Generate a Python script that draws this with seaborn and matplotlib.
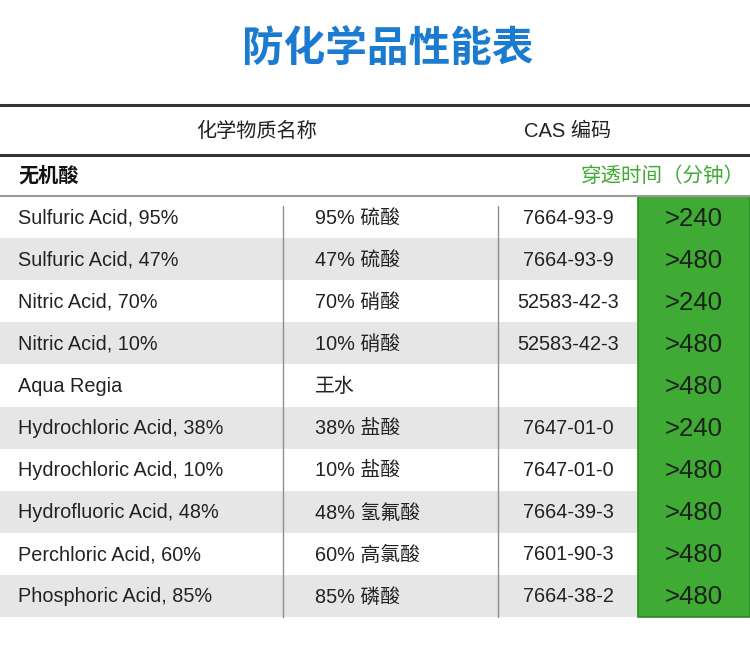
import matplotlib
matplotlib.use("Agg")
import matplotlib.pyplot as plt
import seaborn as sns
import pandas as pd

sns.set_theme(style="white")
plt.rcParams['font.family'] = ['Liberation Sans', 'Noto Sans CJK SC', 'DejaVu Sans']

title = "防化学品性能表"
header_name = "化学物质名称"
header_cas = "CAS 编码"
section = "无机酸"
time_header = "穿透时间（分钟）"

names_en = ["Sulfuric Acid, 95%", "Sulfuric Acid, 47%", "Nitric Acid, 70%", "Nitric Acid, 10%",
            "Aqua Regia", "Hydrochloric Acid, 38%", "Hydrochloric Acid, 10%",
            "Hydrofluoric Acid, 48%", "Perchloric Acid, 60%", "Phosphoric Acid, 85%"]
names_cn = ["95% 硫酸", "47% 硫酸", "70% 硝酸", "10% 硝酸", "王水", "38% 盐酸", "10% 盐酸",
            "48% 氢氟酸", "60% 高氯酸", "85% 磷酸"]
cas = ["7664-93-9", "7664-93-9", "52583-42-3", "52583-42-3", "", "7647-01-0", "7647-01-0",
       "7664-39-3", "7601-90-3", "7664-38-2"]
times = [">240", ">480", ">240", ">480", ">480", ">240", ">480", ">480", ">480", ">480"]

W, H = 750, 646
fig = plt.figure(figsize=(7.5, 6.46), dpi=100)
ax = fig.add_axes([0, 0, 1, 1])
ax.set_xlim(0, W)
ax.set_ylim(H, 0)
ax.axis("off")

row_top = 196.0
row_h = 42.1
n = len(names_en)

df = pd.DataFrame({"row": range(n), "en": names_en, "cn": names_cn, "cas": cas, "t": times})

# row backgrounds (alternating)
for i in range(n):
    y0 = row_top + i * row_h
    if i % 2 == 1:
        ax.barh(y0 + row_h / 2, 638, height=row_h, left=0, color="#e6e6e6", linewidth=0, zorder=0)

# green time column
ax.barh(row_top + n * row_h / 2, W - 638, height=n * row_h, left=638, color="#3fab35",
        edgecolor="#2a8a25", linewidth=1.2, zorder=1)

# horizontal rules
ax.plot([0, W], [105, 105], color="#333333", lw=2.2, zorder=3)
ax.plot([0, W], [154.5, 154.5], color="#333333", lw=2.2, zorder=3)
ax.plot([0, W], [196, 196], color="#9a9a9a", lw=1.5, zorder=3)

# vertical separators
for x in (283, 498):
    ax.plot([x, x], [206, row_top + n * row_h], color="#8f8f8f", lw=1.0, zorder=3)

# title
ax.text(388, 49, title, ha="center", va="center", fontsize=30, fontweight="bold",
        color="#1a7bd0", family=['Noto Sans CJK SC'])

# header
ax.text(257, 137, header_name, ha="center", va="baseline", fontsize=14.5, color="#222222")
ax.text(568, 137, header_cas, ha="center", va="baseline", fontsize=14.5, color="#222222")

# section row
ax.text(18, 182, section, ha="left", va="baseline", fontsize=14.5, fontweight="bold", color="#111111",
        family=['Noto Sans CJK SC'])
ax.text(745, 182, time_header, ha="right", va="baseline", fontsize=14.8, color="#3fab35",
        family=['Noto Sans CJK SC'])

for _, r in df.iterrows():
    yb = row_top + r["row"] * row_h + row_h / 2 + 6.5
    ax.text(18, yb, r["en"], ha="left", va="baseline", fontsize=14.3, color="#222222", zorder=4)
    ax.text(315, yb + 0.5, r["cn"], ha="left", va="baseline", fontsize=14.3, color="#222222", zorder=4)
    ax.text(568, yb, r["cas"], ha="center", va="baseline", fontsize=14.3, color="#222222", zorder=4)
    ax.text(694, yb + 2, r["t"], ha="center", va="baseline", fontsize=18.5, color="#1a221a", zorder=4)

fig.savefig("out.png", dpi=100, facecolor="white")
